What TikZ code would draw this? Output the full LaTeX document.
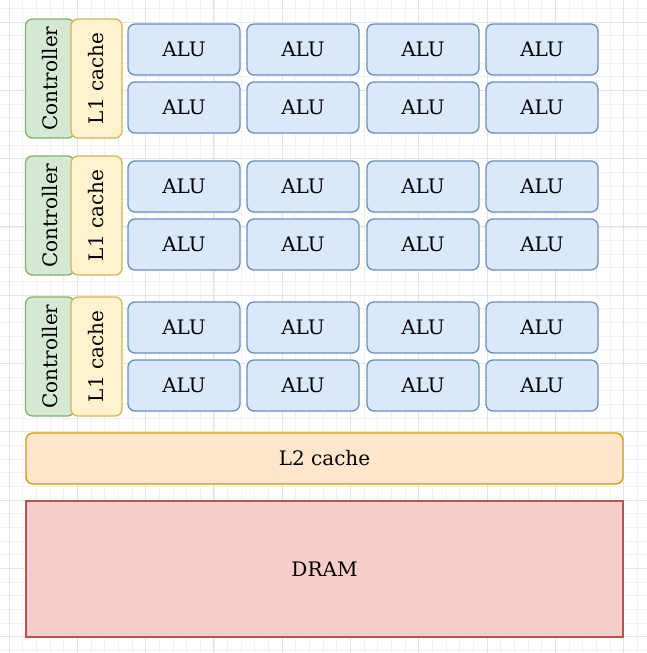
\documentclass[tikz,border=0pt]{standalone}
\usepackage{fontspec}
\setmainfont{DejaVu Serif}
\definecolor{alufill}{HTML}{DAE8FC}
\definecolor{aluline}{HTML}{6C8EBF}
\definecolor{ctrlfill}{HTML}{D5E8D4}
\definecolor{ctrlline}{HTML}{82B366}
\definecolor{lonefill}{HTML}{FFF2CC}
\definecolor{loneline}{HTML}{D6B656}
\definecolor{ltwofill}{HTML}{FFE6CC}
\definecolor{ltwoline}{HTML}{D79B00}
\definecolor{dramfill}{HTML}{F8CECC}
\definecolor{dramline}{HTML}{B85450}
\definecolor{gridminor}{HTML}{F1F1F1}
\definecolor{gridmajor}{HTML}{E3E3E3}
\tikzset{
  block/.style={draw, line width=1.3pt, inner sep=0pt, font=\fontsize{20}{24}\selectfont},
  alu/.style={block, fill=alufill, draw=aluline, rounded corners=7pt,
    minimum width=112pt, minimum height=51pt},
  ctrl/.style={block, fill=ctrlfill, draw=ctrlline, rounded corners=7pt,
    minimum width=119pt, minimum height=49pt, rotate=90},
  lone/.style={block, fill=lonefill, draw=loneline, rounded corners=7pt,
    minimum width=119pt, minimum height=51pt, rotate=90},
}
\begin{document}
\begin{tikzpicture}[x=1pt,y=-1pt]
      \useasboundingbox (0,0) rectangle (647,653);
      \fill[white] (0,0) rectangle (647,653);
      % grid
      \foreach \i in {-1,...,47}{
        \draw[gridminor, line width=0.8pt] (9+13.66*\i,0) -- (9+13.66*\i,653);
        \draw[gridminor, line width=0.8pt] (0,22+13.66*\i) -- (647,22+13.66*\i);
      }
      \foreach \i in {0,...,9}{
        \draw[gridmajor, line width=1pt] (9+68.3*\i,0) -- (9+68.3*\i,653);
        \draw[gridmajor, line width=1pt] (0,22+68.3*\i) -- (647,22+68.3*\i);
      }
      % cores
      \foreach \g/\t in {1/19, 2/156, 3/297}{
        \node[ctrl] (C\g) at (50,\t+59.5) {Controller};
        \node[lone] (L\g) at (96.5,\t+59.5) {L1 cache};
        \foreach \c/\x in {1/184, 2/303, 3/423, 4/542}{
          \node[alu] (A\g\c) at (\x,\t+30.5) {ALU};
          \node[alu] (B\g\c) at (\x,\t+88.5) {ALU};
        }
      }
      \node[block, fill=ltwofill, draw=ltwoline, rounded corners=7pt,
        minimum width=597pt, minimum height=51pt] (L2) at (324.5,458.5) {L2 cache};
      \node[block, fill=dramfill, draw=dramline,
        minimum width=597pt, minimum height=136pt] (DRAM) at (324.5,569) {DRAM};
    \end{tikzpicture}
\end{document}
